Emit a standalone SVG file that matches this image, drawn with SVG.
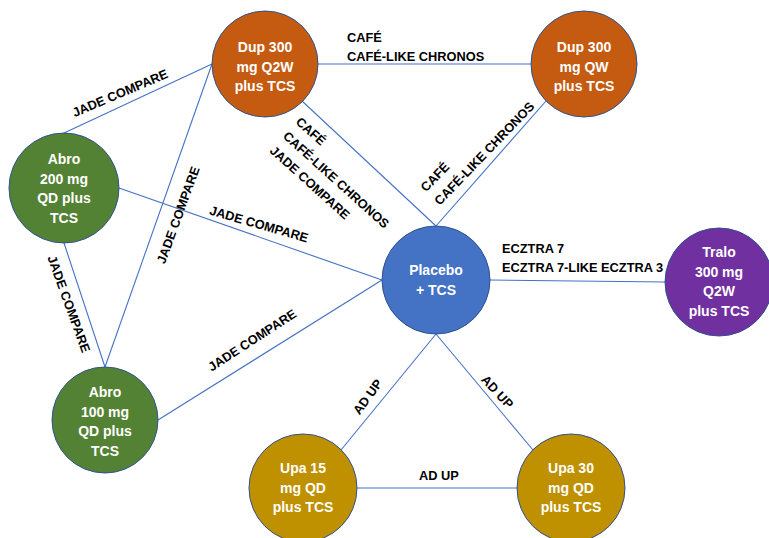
<svg xmlns="http://www.w3.org/2000/svg" width="769" height="538" viewBox="0 0 769 538">
<style>
.edge{stroke:#4472C4;stroke-width:1.1;fill:none}
.node{stroke:#2F528F;stroke-width:1}
.nt{font-family:"Liberation Sans",Arial,sans-serif;font-weight:bold;font-size:14px;fill:#FFFFFF;text-anchor:middle}
.lb{font-family:"Liberation Sans",Arial,sans-serif;font-weight:bold;font-size:12.8px;fill:#000000}
.lbm{text-anchor:middle}
.orange{fill:#C55A11}.green{fill:#548235}.blue{fill:#4472C4}.purple{fill:#7030A0}.gold{fill:#BF9000}
</style>
<rect width="769" height="538" fill="#FFFFFF"/>
<g id="connectors">
<line class="edge" x1="318" y1="64" x2="531" y2="64"/>
<line class="edge" x1="212" y1="64" x2="64" y2="133"/>
<line class="edge" x1="212" y1="64" x2="105" y2="367"/>
<line class="edge" x1="302" y1="101" x2="436" y2="226"/>
<line class="edge" x1="546" y1="101" x2="436" y2="226"/>
<line class="edge" x1="119" y1="188" x2="382" y2="280"/>
<line class="edge" x1="64" y1="243" x2="105" y2="367"/>
<line class="edge" x1="158" y1="420" x2="382" y2="280"/>
<line class="edge" x1="490" y1="280" x2="665" y2="282"/>
<line class="edge" x1="436" y1="334" x2="341" y2="450"/>
<line class="edge" x1="436" y1="334" x2="533" y2="450"/>
<line class="edge" x1="357" y1="488" x2="517" y2="488"/>
</g>
<g id="labels">
<text class="lb" x="347" y="42">CAFÉ</text>
<text class="lb" x="347" y="61">CAFÉ-LIKE CHRONOS</text>
<g transform="translate(120,93) rotate(-23)"><text class="lb lbm" x="0" y="4.6">JADE COMPARE</text></g>
<g transform="translate(295,123) rotate(42)"><text class="lb" x="0" y="0">CAFÉ</text><text class="lb" x="0" y="19.2">CAFÉ-LIKE CHRONOS</text><text class="lb" x="0" y="38.8">JADE COMPARE</text></g>
<g transform="translate(426,192.6) rotate(-46)"><text class="lb" x="0" y="0">CAFÉ</text><text class="lb" x="0" y="19.2">CAFÉ-LIKE CHRONOS</text></g>
<g transform="translate(259,224) rotate(16)"><text class="lb lbm" x="0" y="4.6">JADE COMPARE</text></g>
<g transform="translate(178,215) rotate(-70)"><text class="lb lbm" x="0" y="4.6">JADE COMPARE</text></g>
<g transform="translate(69,304) rotate(70)"><text class="lb lbm" x="0" y="4.6">JADE COMPARE</text></g>
<g transform="translate(252,340) rotate(-33)"><text class="lb lbm" x="0" y="4.6">JADE COMPARE</text></g>
<text class="lb" x="502" y="253">ECZTRA 7</text>
<text class="lb" x="502" y="272">ECZTRA 7-LIKE ECZTRA 3</text>
<g transform="translate(367.5,396.7) rotate(-54)"><text class="lb lbm" x="0" y="4.6">AD UP</text></g>
<g transform="translate(497.5,391.7) rotate(47)"><text class="lb lbm" x="0" y="4.6">AD UP</text></g>
<text class="lb lbm" x="439" y="480">AD UP</text>
</g>
<g id="dup-q2w"><circle class="node orange" cx="265" cy="64" r="53"/><text class="nt" x="265" y="52">Dup 300</text><text class="nt" x="265" y="71.5">mg Q2W</text><text class="nt" x="265" y="91">plus TCS</text></g>
<g id="dup-qw"><circle class="node orange" cx="584" cy="64" r="53"/><text class="nt" x="584" y="52">Dup 300</text><text class="nt" x="584" y="71.5">mg QW</text><text class="nt" x="584" y="91">plus TCS</text></g>
<g id="abro-200"><circle class="node green" cx="64" cy="188" r="55"/><text class="nt" x="64" y="164">Abro</text><text class="nt" x="64" y="183.5">200 mg</text><text class="nt" x="64" y="203">QD plus</text><text class="nt" x="64" y="222.5">TCS</text></g>
<g id="placebo"><circle class="node blue" cx="436" cy="280" r="54"/><text class="nt" x="436" y="275">Placebo</text><text class="nt" x="436" y="294.5">+ TCS</text></g>
<g id="tralo"><circle class="node purple" cx="719" cy="282" r="54"/><text class="nt" x="719" y="257">Tralo</text><text class="nt" x="719" y="276.5">300 mg</text><text class="nt" x="719" y="296">Q2W</text><text class="nt" x="719" y="315.5">plus TCS</text></g>
<g id="abro-100"><circle class="node green" cx="105" cy="420" r="53"/><text class="nt" x="105" y="397">Abro</text><text class="nt" x="105" y="416.5">100 mg</text><text class="nt" x="105" y="436">QD plus</text><text class="nt" x="105" y="455.5">TCS</text></g>
<g id="upa-15"><circle class="node gold" cx="303" cy="488" r="54"/><text class="nt" x="303" y="473">Upa 15</text><text class="nt" x="303" y="492.5">mg QD</text><text class="nt" x="303" y="512">plus TCS</text></g>
<g id="upa-30"><circle class="node gold" cx="571" cy="488" r="54"/><text class="nt" x="571" y="473">Upa 30</text><text class="nt" x="571" y="492.5">mg QD</text><text class="nt" x="571" y="512">plus TCS</text></g>
</svg>
